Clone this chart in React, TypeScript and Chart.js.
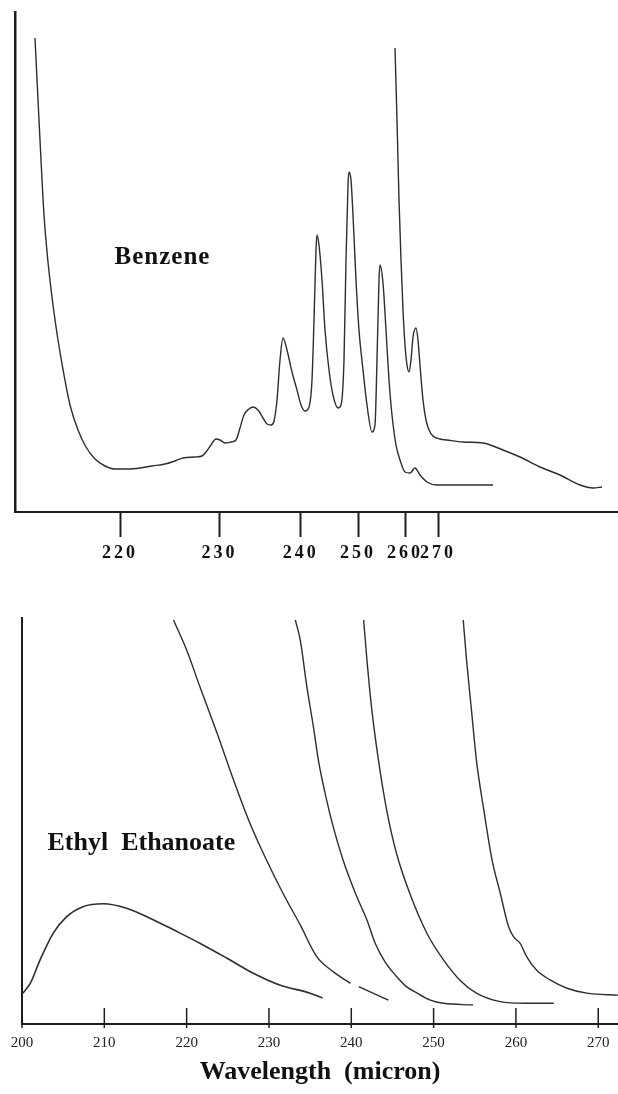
import React, { useEffect, useRef } from 'react';
import { Chart, registerables } from 'chart.js';

Chart.register(...registerables);

// ---------- Top panel: Benzene (axis units = position along the printed axis) ----------
const benzeneX = [20, 23, 26, 29, 33, 38, 43, 49, 55, 63, 71, 80, 90, 100, 113, 125, 137, 150, 160, 168, 180, 187, 191, 196, 201, 205, 210, 216, 221, 225, 229, 234, 238, 243, 248, 252, 256, 259, 262, 265, 268, 272, 277, 282, 286, 290, 294, 297, 299, 301, 302, 304, 307, 310, 314, 318, 323, 326, 329, 331, 333, 334, 336, 338, 341, 344, 348, 352, 357, 360, 362, 364, 365, 368, 371, 374, 377, 381, 385, 390, 395, 400, 405, 412, 422, 448, 478];
const benzeneY = [94.8, 82.4, 70.4, 59.4, 50.0, 41.4, 34.4, 27.4, 21.4, 16.4, 13.0, 10.6, 9.2, 8.6, 8.6, 8.8, 9.2, 9.6, 10.2, 10.8, 11.0, 11.2, 12.0, 13.4, 14.6, 14.4, 13.8, 14.0, 14.4, 16.8, 19.4, 20.6, 21.0, 20.4, 18.8, 17.6, 17.4, 18.2, 22.4, 30.4, 34.8, 32.4, 28.0, 24.4, 21.4, 20.2, 21.0, 26.4, 38.4, 52.4, 55.4, 53.4, 46.4, 36.4, 28.4, 23.4, 20.8, 21.4, 30.4, 50.4, 65.4, 68.0, 66.4, 59.4, 46.4, 36.4, 28.4, 21.4, 16.0, 17.4, 30.4, 46.4, 49.4, 45.8, 36.4, 26.4, 19.4, 13.4, 10.4, 8.0, 7.8, 8.8, 7.4, 6.0, 5.4, 5.4, 5.4];

const benzeneHighX = [380, 382, 384, 386, 388, 390, 392, 394, 396, 398, 401, 403, 405, 408, 411, 414, 418, 425, 432, 448, 468, 488, 505, 525, 545, 565, 578, 587];
const benzeneHighY = [92.8, 78.4, 62.4, 50.4, 40.4, 33.4, 29.4, 28.0, 30.4, 35.0, 36.8, 34.4, 29.4, 22.4, 18.4, 16.4, 15.2, 14.6, 14.4, 14.0, 13.8, 12.4, 11.0, 9.0, 7.4, 5.4, 4.8, 5.0];

const topTickPositions = [105, 204.5, 285.7, 343, 390, 423];
const topTickLabels = ['220', '230', '240', '250', '260', '270'];

// ---------- Bottom panel: Ethyl Ethanoate (x = wavelength) ----------
const humpX = [200.1, 201.0, 202.2, 203.8, 205.4, 207.4, 209.9, 212.7, 215.6, 218.4, 221.6, 224.9, 228.1, 231.3, 235.0, 236.5];
const humpY = [7.6, 10.0, 15.8, 22.4, 26.4, 28.9, 29.6, 28.5, 26.0, 23.2, 19.9, 16.2, 12.5, 9.6, 7.6, 6.4];

const curveAX = [218.4, 220.0, 221.6, 223.7, 225.7, 227.7, 229.7, 231.7, 233.8, 235.8, 237.8, 239.9, 240.4, 240.9, 244.5];
const curveAY = [99.5, 92.1, 83.1, 71.6, 60.1, 49.4, 40.4, 32.2, 24.4, 16.6, 12.9, 10.0, null, 9.2, 5.9];

const curveBX = [233.2, 233.8, 234.6, 235.4, 236.0, 237.0, 237.8, 239.0, 240.5, 241.9, 242.9, 244.1, 245.5, 246.7, 248.0, 249.6, 251.2, 254.8];
const curveBY = [99.5, 94.6, 83.1, 73.2, 65.0, 55.2, 48.6, 40.4, 32.2, 25.6, 19.9, 15.3, 11.7, 9.2, 7.6, 5.9, 5.1, 4.7];

const curveCX = [241.5, 241.9, 242.5, 243.3, 244.3, 245.5, 247.1, 249.2, 251.2, 253.2, 255.2, 258.1, 261.1, 264.6];
const curveCY = [99.5, 89.7, 77.3, 65.0, 52.7, 42.0, 32.2, 22.3, 15.8, 10.8, 7.6, 5.5, 5.1, 5.1];

const curveDX = [253.6, 254.0, 254.6, 255.2, 256.1, 257.1, 258.1, 259.1, 259.7, 260.5, 261.3, 262.5, 264.2, 266.2, 268.6, 272.4];
const curveDY = [99.5, 89.7, 77.3, 65.0, 52.7, 40.4, 32.2, 24.0, 21.5, 19.9, 16.6, 13.3, 10.8, 8.8, 7.6, 7.1];

const bottomTicks = [200, 210, 220, 230, 240, 250, 260, 270];
const bottomTickLabels = ['200', '210', '220', '230', '240', '250', '260', '270'];

const SERIF = '"Liberation Serif", "Times New Roman", serif';
const INK = '#1e1e1e';
const LINE = '#2e2e2e';

const pts = (xs: number[], ys: (number | null)[]) => xs.map((x, i) => ({ x, y: ys[i] }));

const lineDs = (xs: number[], ys: (number | null)[], width = 1.4) => ({
  data: pts(xs, ys) as any,
  borderColor: LINE,
  borderWidth: width,
  pointRadius: 0,
  fill: false,
  cubicInterpolationMode: 'monotone' as const,
  spanGaps: false,
});

const textPlugin = (id: string, text: string, xVal: number, yVal: number, font: string, spacing: string) => ({
  id,
  afterDatasetsDraw(chart: any) {
    const { ctx, scales } = chart;
    const px = scales.x.getPixelForValue(xVal);
    const py = scales.y.getPixelForValue(yVal);
    ctx.save();
    ctx.font = font;
    (ctx as any).letterSpacing = spacing;
    ctx.fillStyle = '#111';
    ctx.textAlign = 'center';
    ctx.textBaseline = 'middle';
    ctx.fillText(text, px, py);
    ctx.restore();
  },
});

const spacingPlugin = {
  id: 'tickSpacing',
  beforeDraw(chart: any) {
    (chart.ctx as any).letterSpacing = '3px';
  },
  afterDraw(chart: any) {
    (chart.ctx as any).letterSpacing = '0px';
  },
};

// tick marks of the lower panel: cross the baseline, mostly pointing inward
const tickMarkPlugin = {
  id: 'tickMarks',
  afterDraw(chart: any) {
    const { ctx, scales, chartArea } = chart;
    const x = scales.x;
    ctx.save();
    ctx.strokeStyle = INK;
    ctx.lineWidth = 1.5;
    x.ticks.forEach((t: any) => {
      const px = x.getPixelForValue(t.value);
      ctx.beginPath();
      ctx.moveTo(px, chartArea.bottom + 4);
      ctx.lineTo(px, chartArea.bottom - 16);
      ctx.stroke();
    });
    ctx.restore();
  },
};

function TopChart() {
  const ref = useRef<HTMLCanvasElement>(null);
  useEffect(() => {
    if (!ref.current) return;
    const chart = new Chart(ref.current, {
      type: 'line',
      data: {
        datasets: [lineDs(benzeneX, benzeneY), lineDs(benzeneHighX, benzeneHighY)],
      },
      options: {
        animation: false,
        responsive: false,
        layout: { autoPadding: false, padding: { left: 15, top: 12, right: 0, bottom: 0 } },
        plugins: { legend: { display: false }, tooltip: { enabled: false } },
        scales: {
          x: {
            type: 'linear',
            min: 0,
            max: 603,
            afterBuildTicks: (s: any) => {
              s.ticks = topTickPositions.map((v) => ({ value: v }));
            },
            afterFit: (s: any) => {
              s.height = 68;
            },
            ticks: {
              autoSkip: false,
              maxRotation: 0,
              padding: 6,
              color: '#111',
              font: { family: SERIF, size: 18, weight: 'bold' },
              callback: (_v: any, i: number) => topTickLabels[i],
            },
            grid: { display: true, drawOnChartArea: false, drawTicks: true, tickLength: 25, tickWidth: 2, tickColor: INK },
            border: { display: true, color: INK, width: 2 },
          },
          y: {
            type: 'linear',
            min: 0,
            max: 100,
            afterFit: (s: any) => {
              s.width = 0;
            },
            ticks: { display: false },
            grid: { display: true, drawOnChartArea: false, drawTicks: false },
            border: { display: true, color: INK, width: 2.5 },
          },
        },
      },
      plugins: [spacingPlugin, textPlugin('benz', 'Benzene', 147.5, 50.8, `bold 25px ${SERIF}`, '1px')],
    } as any);
    return () => chart.destroy();
  }, []);
  return <canvas ref={ref} width={618} height={580} style={{ display: 'block', width: 618, height: 580 }} />;
}

function BottomChart() {
  const ref = useRef<HTMLCanvasElement>(null);
  useEffect(() => {
    if (!ref.current) return;
    const chart = new Chart(ref.current, {
      type: 'line',
      data: {
        datasets: [
          lineDs(humpX, humpY, 1.6),
          lineDs(curveAX, curveAY),
          lineDs(curveBX, curveBY),
          lineDs(curveCX, curveCY),
          lineDs(curveDX, curveDY),
        ],
      },
      options: {
        animation: false,
        responsive: false,
        layout: { autoPadding: false, padding: { left: 22, top: 38, right: 0, bottom: 0 } },
        plugins: { legend: { display: false }, tooltip: { enabled: false } },
        scales: {
          x: {
            type: 'linear',
            min: 200,
            max: 272.4,
            afterBuildTicks: (s: any) => {
              s.ticks = bottomTicks.map((v) => ({ value: v }));
            },
            afterFit: (s: any) => {
              s.height = 70;
            },
            ticks: {
              autoSkip: false,
              maxRotation: 0,
              padding: 0,
              color: '#222',
              font: { family: SERIF, size: 15, lineHeight: 2.6 },
              callback: (_v: any, i: number) => bottomTickLabels[i],
            },
            grid: { display: true, drawOnChartArea: false, drawTicks: false },
            border: { display: true, color: INK, width: 2 },
            title: {
              display: true,
              text: 'Wavelength  (micron)',
              color: '#111',
              font: { family: SERIF, size: 26, weight: 'bold' },
              padding: { top: 0, bottom: 6 },
            },
          },
          y: {
            type: 'linear',
            min: 0,
            max: 100,
            afterFit: (s: any) => {
              s.width = 0;
            },
            ticks: { display: false },
            grid: { display: true, drawOnChartArea: false, drawTicks: false },
            border: { display: true, color: INK, width: 2 },
          },
        },
      },
      plugins: [tickMarkPlugin, textPlugin('ethyl', 'Ethyl  Ethanoate', 214.5, 44.6, `bold 26px ${SERIF}`, '0px')],
    } as any);
    return () => chart.destroy();
  }, []);
  return <canvas ref={ref} width={618} height={514} style={{ display: 'block', width: 618, height: 514 }} />;
}

export default function App() {
  return (
    <div style={{ position: 'absolute', left: 0, top: 0, width: 618, height: 1094, background: '#fff', overflow: 'hidden' }}>
      <TopChart />
      <BottomChart />
    </div>
  );
}
